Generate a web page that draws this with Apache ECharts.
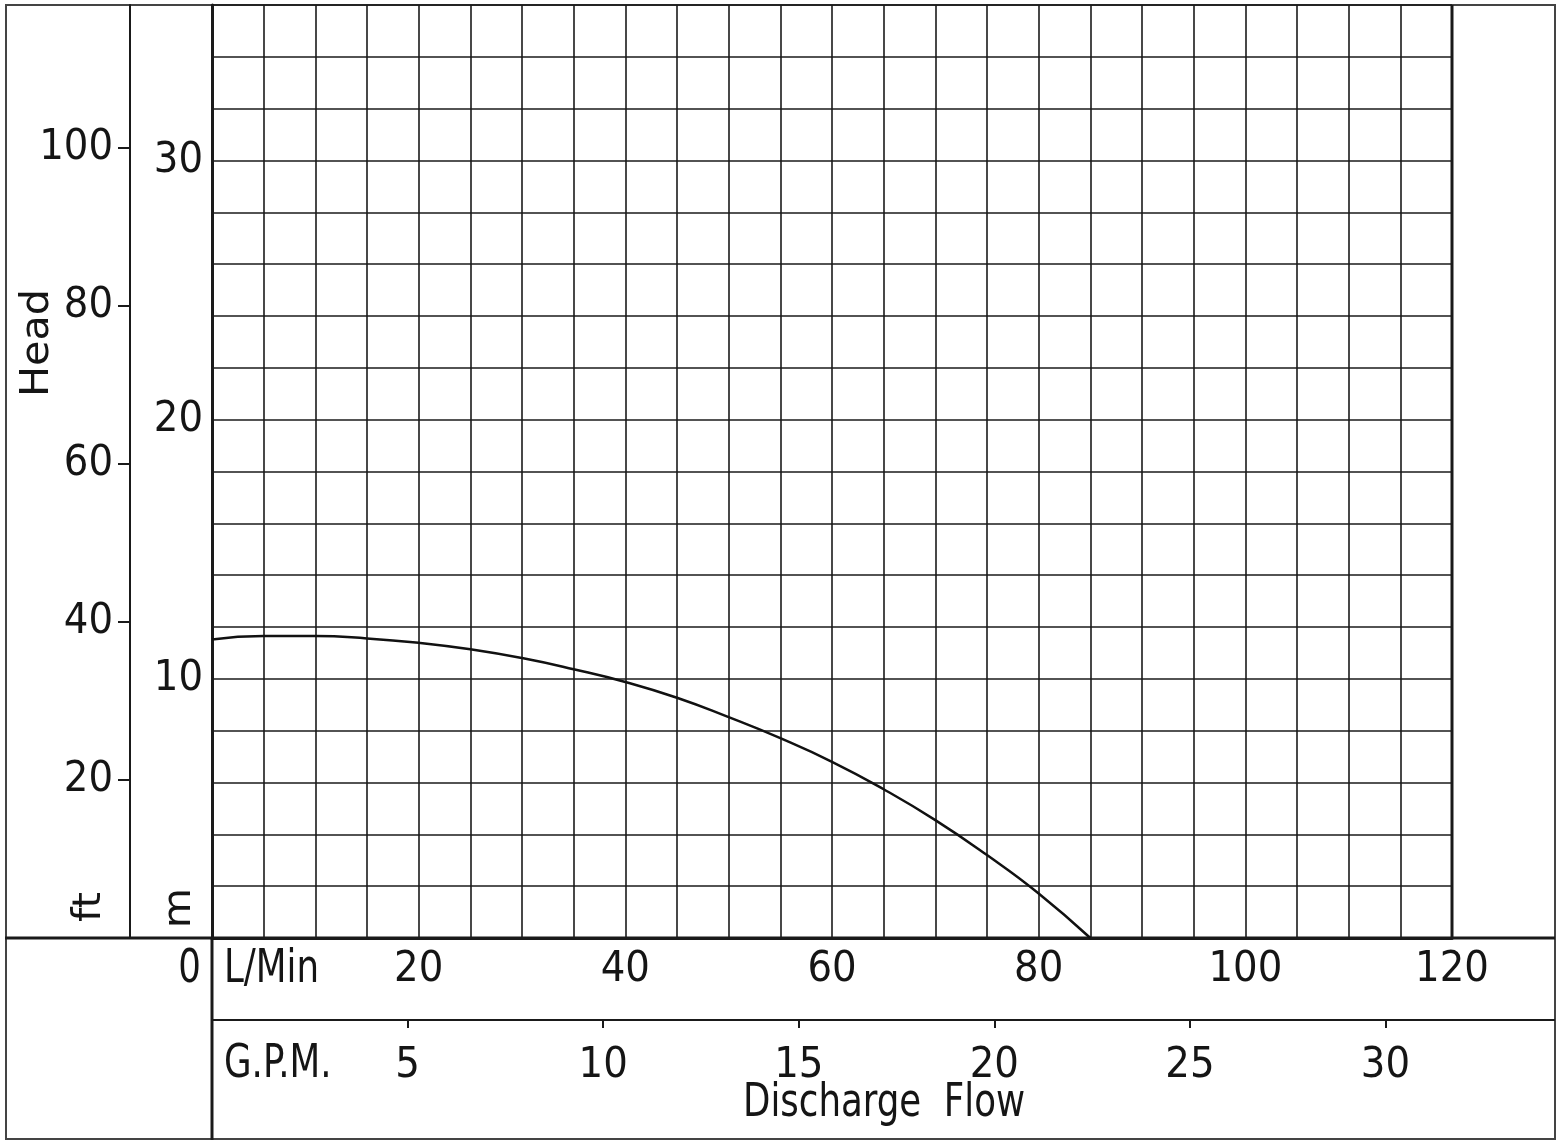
<!DOCTYPE html>
<html>
<head>
<meta charset="utf-8">
<script src="https://cdn.jsdelivr.net/npm/echarts@6/dist/echarts.min.js"></script>
<style>
html,body{margin:0;padding:0;background:#fff;}
#c{width:1560px;height:1142px;}
</style>
</head>
<body>
<div id="c"></div>
<script>
// Data (flow in L/min, head in m)
var flowLpm = [0, 5, 10, 15, 20, 25, 30, 35, 40, 45, 50, 55, 60, 65, 70, 75, 80, 85];
var headM   = [11.52, 11.65, 11.65, 11.56, 11.39, 11.14, 10.80, 10.37, 9.88, 9.27, 8.52, 7.71, 6.80, 5.74, 4.55, 3.20, 1.72, 0];
var lpmTicks = [20, 40, 60, 80, 100, 120];
var gpmTicks = [5, 10, 15, 20, 25, 30];
var mTicks = [10, 20, 30];
var ftTicks = [20, 40, 60, 80, 100];

var LPM_MAX = 120, M_MAX = 36;
var GPM_PER_LPM = 1 / 3.78541, FT_PER_M = 3.28084;

var FONT = '"Liberation Sans Narrow","DejaVu Sans Condensed","Liberation Sans",sans-serif';
var FS = 43;
var GFS = 46;
var SX = 0.86;
var TXT = '#151515';
var LINE = '#1a1a1a';

var chart = echarts.init(document.getElementById('c'), null, {renderer: 'canvas'});

var points = flowLpm.map(function (q, i) { return [q, headM[i]]; });

function gtext(t, x, y, align, rot) {
  return {type: 'text', x: x, y: y, rotation: rot || 0, scaleX: rot ? 1 : SX, scaleY: rot ? SX : 1,
    style: {text: t, fill: TXT, font: GFS + 'px ' + FONT, align: align, verticalAlign: 'middle'}, silent: true};
}

var option = {
  backgroundColor: '#fff',
  animation: false,
  grid: {left: 212, right: 108, top: 5, bottom: 204, containLabel: false},
  xAxis: [
    {
      type: 'value', min: 0, max: LPM_MAX, interval: 5, position: 'bottom',
      axisLine: {show: true, onZero: false, lineStyle: {color: LINE, width: 3}},
      axisTick: {show: false},
      axisLabel: {customValues: lpmTicks, color: TXT, fontFamily: FONT, fontSize: FS, margin: 10},
      splitLine: {show: true, lineStyle: {color: LINE, width: 1.6}}
    },
    {
      type: 'value', min: 0, max: LPM_MAX * GPM_PER_LPM, position: 'bottom', offset: 82,
      axisLine: {show: true, onZero: false, lineStyle: {color: LINE, width: 2}},
      axisTick: {show: true, customValues: gpmTicks, length: 8, lineStyle: {color: LINE, width: 2}},
      axisLabel: {customValues: gpmTicks, color: TXT, fontFamily: FONT, fontSize: FS, margin: 24},
      splitLine: {show: false}
    }
  ],
  yAxis: [
    {
      type: 'value', min: 0, max: M_MAX, interval: 2, position: 'left',
      axisLine: {show: true, onZero: false, lineStyle: {color: LINE, width: 3}},
      axisTick: {show: false},
      axisLabel: {customValues: mTicks, color: TXT, fontFamily: FONT, fontSize: FS, margin: 9},
      splitLine: {show: true, lineStyle: {color: LINE, width: 1.6}}
    },
    {
      type: 'value', min: 0, max: M_MAX * FT_PER_M, position: 'left', offset: 82,
      axisLine: {show: true, onZero: false, lineStyle: {color: LINE, width: 2}},
      axisTick: {show: true, customValues: ftTicks, length: 12, lineStyle: {color: LINE, width: 2}},
      axisLabel: {customValues: ftTicks, color: TXT, fontFamily: FONT, fontSize: FS, margin: 17},
      splitLine: {show: false}
    }
  ],
  series: [
    {
      type: 'line', xAxisIndex: 0, yAxisIndex: 0, data: points,
      smooth: true, symbol: 'none',
      lineStyle: {color: '#111', width: 2.5}
    }
  ],
  graphic: [
    // outer frame
    {type: 'rect', shape: {x: 6, y: 5, width: 1549, height: 1134}, style: {fill: null, stroke: '#444', lineWidth: 2}, silent: true},
    // frame lines
    {type: 'line', shape: {x1: 5, y1: 938, x2: 1555, y2: 938}, style: {stroke: LINE, lineWidth: 3}, silent: true},
    {type: 'line', shape: {x1: 212, y1: 938, x2: 212, y2: 1140}, style: {stroke: LINE, lineWidth: 3}, silent: true},
    {type: 'line', shape: {x1: 1452, y1: 5, x2: 1452, y2: 938}, style: {stroke: LINE, lineWidth: 3}, silent: true},
    {type: 'line', shape: {x1: 1452, y1: 1020, x2: 1555, y2: 1020}, style: {stroke: LINE, lineWidth: 2}, silent: true},
    // texts
    gtext('Head', 38, 343, 'center', Math.PI / 2),
    gtext('ft', 90, 907, 'center', Math.PI / 2),
    gtext('m', 180, 908, 'center', Math.PI / 2),
    gtext('0', 201, 970, 'right'),
    gtext('L/Min', 224, 970, 'left'),
    gtext('G.P.M.', 224, 1065, 'left'),
    gtext('Discharge  Flow', 884, 1104, 'center')
  ]
};
chart.setOption(option);
</script>
</body>
</html>
